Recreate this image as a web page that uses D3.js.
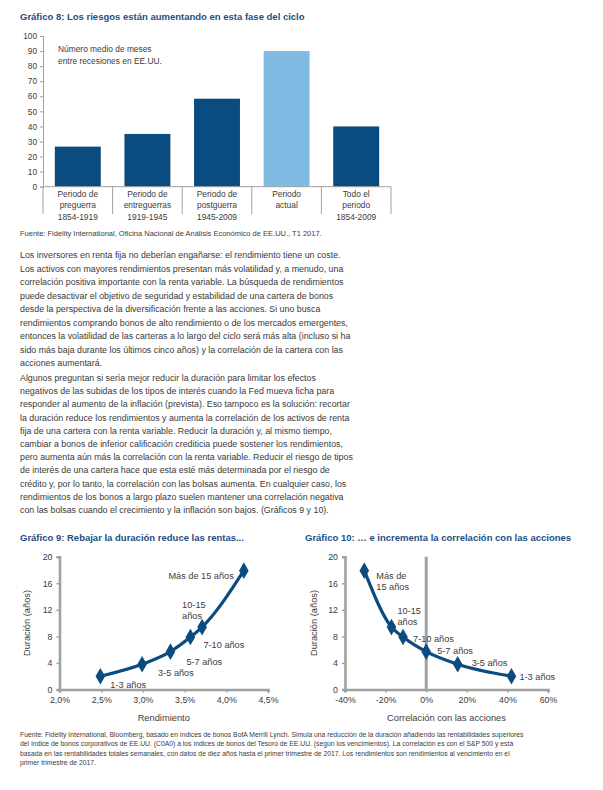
<!DOCTYPE html>
<html><head><meta charset="utf-8">
<script src="https://cdn.jsdelivr.net/npm/d3@7"></script>
<style>
body{margin:0;background:#fff;}
svg{display:block;}
text{font-family:"Liberation Sans",Arial,Helvetica,sans-serif;}
</style></head>
<body>
<script>
// ---------- DATA ----------
const barCategories = [
  ["Periodo de","preguerra","1854-1919"],
  ["Periodo de","entreguerras","1919-1945"],
  ["Periodo de","postguerra","1945-2009"],
  ["Periodo","actual",""],
  ["Todo el","periodo","1854-2009"]
];
const barValues = [26.6, 35, 58.4, 90, 40];
const barHighlight = [false, false, false, true, false];
const barTicks = [0,10,20,30,40,50,60,70,80,90,100];

const maturities = ["1-3 años","3-5 años","5-7 años","7-10 años","10-15 años","Más de 15 años"];
const durationYears = [2.0, 3.8, 5.7, 7.9, 9.4, 17.9];
const yieldPct = [2.49, 2.99, 3.33, 3.57, 3.71, 4.21];
const correlationPct = [42, 15.5, 0, -11.4, -17.1, -30.5];
const yieldTicks = [2.0, 2.5, 3.0, 3.5, 4.0, 4.5];
const corrTicks = [-40, -20, 0, 20, 40, 60];
const durTicks = [0, 4, 8, 12, 16, 20];

const para1Lines = [
"Los inversores en renta fija no deberían engañarse: el rendimiento tiene un coste.",
"Los activos con mayores rendimientos presentan más volatilidad y, a menudo, una",
"correlación positiva importante con la renta variable. La búsqueda de rendimientos",
"puede desactivar el objetivo de seguridad y estabilidad de una cartera de bonos",
"desde la perspectiva de la diversificación frente a las acciones. Si uno busca",
"rendimientos comprando bonos de alto rendimiento o de los mercados emergentes,",
"entonces la volatilidad de las carteras a lo largo del ciclo será más alta (incluso si ha",
"sido más baja durante los últimos cinco años) y la correlación de la cartera con las",
"acciones aumentará."
];
const para2Lines = [
"Algunos preguntan si sería mejor reducir la duración para limitar los efectos",
"negativos de las subidas de los tipos de interés cuando la Fed mueva ficha para",
"responder al aumento de la inflación (prevista). Eso tampoco es la solución: recortar",
"la duración reduce los rendimientos y aumenta la correlación de los activos de renta",
"fija de una cartera con la renta variable. Reducir la duración y, al mismo tiempo,",
"cambiar a bonos de inferior calificación crediticia puede sostener los rendimientos,",
"pero aumenta aún más la correlación con la renta variable. Reducir el riesgo de tipos",
"de interés de una cartera hace que esta esté más determinada por el riesgo de",
"crédito y, por lo tanto, la correlación con las bolsas aumenta. En cualquier caso, los",
"rendimientos de los bonos a largo plazo suelen mantener una correlación negativa",
"con las bolsas cuando el crecimiento y la inflación son bajos. (Gráficos 9 y 10)."
];
const footLines = [
"Fuente: Fidelity International, Bloomberg, basado en índices de bonos BofA Merrill Lynch. Simula una reducción de la duración añadiendo las rentabilidades superiores",
"del índice de bonos corporativos de EE.UU. (C0A0) a los índices de bonos del Tesoro de EE.UU. (según los vencimientos). La correlación es con el S&P 500 y está",
"basada en las rentabilidades totales semanales, con datos de diez años hasta el primer trimestre de 2017. Los rendimientos son rendimientos al vencimiento en el",
"primer trimestre de 2017."
];

// ---------- STYLE ----------
const W = 603, H = 790;
const DARK = "#0b4c80", LIGHT = "#7fbbe2", TITLE = "#1d4f7f";
const AXIS = "#a0a0a0", TXT = "#3c3c3c";

const svg = d3.select("body").append("svg").attr("width", W).attr("height", H);

// ---------- CHART 8 ----------
svg.append("text").attr("x", 20).attr("y", 20).attr("font-size", 9.5).attr("font-weight", "bold")
  .attr("fill", TITLE).text("Gráfico 8: Los riesgos están aumentando en esta fase del ciclo");

const bx = d3.scaleBand().domain(d3.range(barValues.length)).range([43, 391]).paddingInner(0.34).paddingOuter(0.17);
const by = d3.scaleLinear().domain([0, 100]).range([186.7, 36]);
const g8 = svg.append("g");

const yAx8 = g8.append("g").attr("transform", "translate(43,0)")
  .call(d3.axisLeft(by).tickValues(barTicks).tickSize(3).tickPadding(3));
yAx8.select(".domain").attr("stroke", AXIS);
yAx8.selectAll(".tick line").attr("stroke", AXIS);
yAx8.selectAll("text").attr("font-size", 8.3).attr("fill", TXT).style("font-family", "Liberation Sans, Arial, sans-serif");

g8.selectAll("rect.bar").data(barValues).join("rect").attr("class", "bar")
  .attr("x", (d, i) => bx(i)).attr("width", bx.bandwidth())
  .attr("y", d => by(d)).attr("height", d => by(0) - by(d))
  .attr("fill", (d, i) => barHighlight[i] ? LIGHT : DARK);

g8.append("line").attr("x1", 43).attr("x2", 391).attr("y1", by(0)).attr("y2", by(0)).attr("stroke", AXIS);
const bounds = d3.range(barValues.length + 1).map(i => 43 + i * (348 / barValues.length));
g8.selectAll("line.sep").data(bounds).join("line").attr("class", "sep")
  .attr("x1", d => d).attr("x2", d => d).attr("y1", by(0)).attr("y2", 214).attr("stroke", AXIS);

barCategories.forEach((lines, i) => {
  const cx = bx(i) + bx.bandwidth() / 2;
  lines.forEach((s, j) => {
    g8.append("text").attr("x", cx).attr("y", 197 + j * 11.3).attr("text-anchor", "middle")
      .attr("font-size", 8.4).attr("fill", TXT).text(s);
  });
});

g8.append("text").attr("x", 58).attr("y", 52).attr("font-size", 8.4).attr("fill", TXT).text("Número medio de meses");
g8.append("text").attr("x", 58).attr("y", 63.5).attr("font-size", 8.4).attr("fill", TXT).text("entre recesiones en EE.UU.");

svg.append("text").attr("x", 20).attr("y", 236).attr("font-size", 7.5).attr("fill", TXT)
  .text("Fuente: Fidelity International, Oficina Nacional de Análisis Económico de EE.UU., T1 2017.");

// ---------- PARAGRAPHS ----------
function para(lines, y0, lh) {
  const t = svg.append("text").attr("font-size", 8.85).attr("fill", "#3a3a3a");
  lines.forEach((s, i) => t.append("tspan").attr("x", 20).attr("y", y0 + i * lh).text(s));
}
para(para1Lines, 258, 13.5);
para(para2Lines, 381, 13.2);

// ---------- SCATTER-LINE CHARTS ----------
function lineChart(opts) {
  const g = svg.append("g");
  g.append("text").attr("x", opts.titleX).attr("y", 541).attr("font-size", 9.5).attr("font-weight", "bold")
    .attr("fill", TITLE).text(opts.title);
  const x = d3.scaleLinear().domain(opts.xDomain).range(opts.xRange);
  const y = d3.scaleLinear().domain([0, 20]).range([689.5, 556.7]);

  const yAx = g.append("g").attr("transform", `translate(${opts.xRange[0]},0)`)
    .call(d3.axisLeft(y).tickValues(durTicks).tickSize(3).tickPadding(4));
  const xAx = g.append("g").attr("transform", `translate(0,${y(0)})`)
    .call(d3.axisBottom(x).tickValues(opts.xTicks).tickSize(3).tickPadding(4).tickFormat(opts.fmt));
  [yAx, xAx].forEach(a => {
    a.select(".domain").attr("stroke", AXIS).attr("stroke-width", 2.6);
    a.selectAll(".tick line").attr("stroke", AXIS).attr("stroke-width", 1.5);
    a.selectAll("text").attr("font-size", 8.8).attr("fill", TXT).style("font-family", "Liberation Sans, Arial, sans-serif");
  });
  if (opts.zeroLine) {
    g.append("line").attr("x1", x(0)).attr("x2", x(0)).attr("y1", y(20)).attr("y2", y(0))
      .attr("stroke", AXIS).attr("stroke-width", 3);
  }
  g.append("text").attr("transform", `translate(${opts.yLabelX},623) rotate(-90)`).attr("text-anchor", "middle")
    .attr("font-size", 9.3).attr("fill", TXT).text("Duración (años)");
  g.append("text").attr("x", (opts.xRange[0] + opts.xRange[1]) / 2).attr("y", 721).attr("text-anchor", "middle")
    .attr("font-size", 9.3).attr("fill", TXT).text(opts.xLabel);

  const pts = opts.xs.map((v, i) => [x(v), y(durationYears[i])]);
  g.append("path").attr("d", d3.line().curve(d3.curveMonotoneX)(opts.sortPts ? pts.slice().sort((a, b) => a[0] - b[0]) : pts))
    .attr("fill", "none").attr("stroke", DARK).attr("stroke-width", 3.2).attr("stroke-linejoin", "round");
  g.selectAll("path.mk").data(pts).join("path").attr("class", "mk")
    .attr("d", d3.symbol(d3.symbolDiamond, 80))
    .attr("transform", d => `translate(${d[0]},${d[1]})`).attr("fill", DARK);

  opts.labels.forEach((lab, i) => {
    const p = pts[i];
    lab.lines.forEach((s, j) => {
      g.append("text").attr("x", p[0] + lab.dx).attr("y", p[1] + lab.dy + j * 11.3)
        .attr("text-anchor", lab.anchor || "start").attr("font-size", 9.2).attr("fill", TXT).text(s);
    });
  });
}

const fmtComma = d => d3.format(".1f")(d).replace(".", ",") + "%";
lineChart({
  title: "Gráfico 9: Rebajar la duración reduce las rentas...", titleX: 20,
  xDomain: [2.0, 4.5], xRange: [59.5, 268], xTicks: yieldTicks, fmt: fmtComma,
  xs: yieldPct, xLabel: "Rendimiento", yLabelX: 30, zeroLine: false,
  labels: [
    {lines: ["1-3 años"], dx: 10, dy: 12},
    {lines: ["3-5 años"], dx: 16, dy: 12},
    {lines: ["5-7 años"], dx: 16, dy: 13},
    {lines: ["7-10 años"], dx: 13, dy: 11},
    {lines: ["10-15", "años"], dx: -20, dy: -19},
    {lines: ["Más de 15 años"], dx: -10, dy: 8, anchor: "end"}
  ]
});
lineChart({
  title: "Gráfico 10: … e incrementa la correlación con las acciones", titleX: 305,
  xDomain: [-40, 60], xRange: [345, 548], xTicks: corrTicks, fmt: d => d + "%",
  xs: correlationPct, xLabel: "Correlación con las acciones", yLabelX: 317, zeroLine: true, sortPts: true,
  labels: [
    {lines: ["1-3 años"], dx: 8, dy: 3.5},
    {lines: ["3-5 años"], dx: 14, dy: 2},
    {lines: ["5-7 años"], dx: 11, dy: 2},
    {lines: ["7-10 años"], dx: 10, dy: 5},
    {lines: ["10-15", "años"], dx: 6, dy: -13},
    {lines: ["Más de", "15 años"], dx: 12, dy: 8}
  ]
});

// ---------- FOOTNOTE ----------
const ft = svg.append("text").attr("font-size", 6.8).attr("fill", TXT);
footLines.forEach((s, i) => ft.append("tspan").attr("x", 20).attr("y", 737 + i * 9.4).text(s));
</script>
</body></html>
